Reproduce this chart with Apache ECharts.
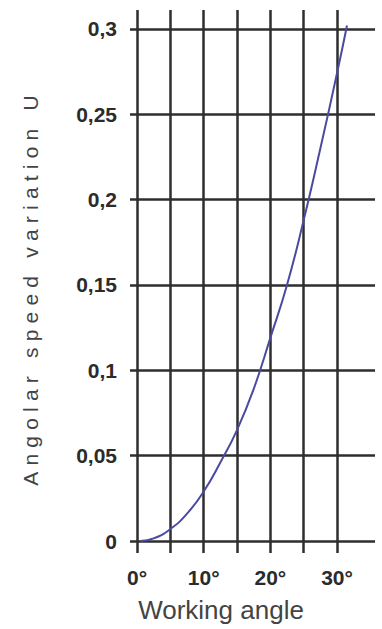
<!DOCTYPE html>
<html>
<head>
<meta charset="utf-8">
<script src="https://cdn.jsdelivr.net/npm/echarts@6/dist/echarts.min.js"></script>
<style>
html,body{margin:0;padding:0;background:#fff;}
#chart{width:382px;height:629px;}
</style>
</head>
<body>
<div id="chart"></div>
<script>
// Data
const angles = [0.5, 2.5, 5, 7.5, 10, 12.5, 15, 17.5, 20, 22.5, 25, 27.5, 30, 31.5];
const uValues = [0, 0.0015, 0.007, 0.016, 0.029, 0.046, 0.065, 0.089, 0.119, 0.150, 0.188, 0.230, 0.274, 0.302];
const xTicks = [0, 5, 10, 15, 20, 25, 30];
const xLabelTicks = [0, 10, 20, 30];
const yTicks = [0, 0.05, 0.1, 0.15, 0.2, 0.25, 0.3];
const xName = 'Working angle';
const yName = 'Angolar speed variation U';

const chart = echarts.init(document.getElementById('chart'), null, {renderer: 'svg'});
const gridColor = '#2e2e2e';
const option = {
  animation: false,
  backgroundColor: '#ffffff',
  grid: {left: 130, right: 7, top: 10, bottom: 76, containLabel: false},
  xAxis: {
    type: 'value',
    min: -1.05, max: 35.7,
    axisLine: {show: false},
    axisTick: {show: false},
    splitLine: {show: false},
    axisLabel: {
      customValues: xLabelTicks,
      formatter: v => v + '°',
      margin: 14,
      fontSize: 21, fontWeight: 'bold', color: '#2b2b2b',
      fontFamily: 'Liberation Sans, Arial, sans-serif'
    },
    name: xName,
    nameLocation: 'middle',
    nameGap: 44,
    nameTextStyle: {fontSize: 26, color: '#444', fontFamily: 'Liberation Sans, Arial, sans-serif', padding: [0, 63, 0, 0]}
  },
  yAxis: {
    type: 'value',
    min: -0.00703, max: 0.3111,
    axisLine: {show: false},
    axisTick: {show: false},
    splitLine: {show: false},
    axisLabel: {
      customValues: yTicks,
      formatter: v => String(v).replace('.', ','),
      margin: 13,
      fontSize: 21, fontWeight: 'bold', color: '#2b2b2b',
      fontFamily: 'Liberation Sans, Arial, sans-serif'
    },
    name: yName,
    nameLocation: 'middle',
    nameRotate: 90,
    nameGap: 89,
    nameTextStyle: {fontSize: 21, color: '#444', fontFamily: 'Liberation Sans, Arial, sans-serif', padding: [0, 12, 0, 0]}
  },
  series: [{
    type: 'line',
    data: angles.map((a, i) => [a, uValues[i]]),
    smooth: true,
    showSymbol: false,
    symbol: 'none',
    lineStyle: {color: '#4a4a9e', width: 2},
    z: 5,
    markLine: {
      silent: true,
      symbol: ['none', 'none'],
      label: {show: false},
      lineStyle: {color: gridColor, width: 2.5, type: 'solid'},
      z: 1,
      data: xTicks.map(v => ({xAxis: v})).concat(yTicks.map(v => ({yAxis: v})))
    }
  }]
};
chart.setOption(option);

function spaceName() {
  document.querySelectorAll('#chart text').forEach(t => {
    if (t.textContent === yName) t.setAttribute('letter-spacing', '6.2');
  });
}
spaceName();
chart.on('finished', spaceName);
setTimeout(spaceName, 50);
</script>
</body>
</html>
